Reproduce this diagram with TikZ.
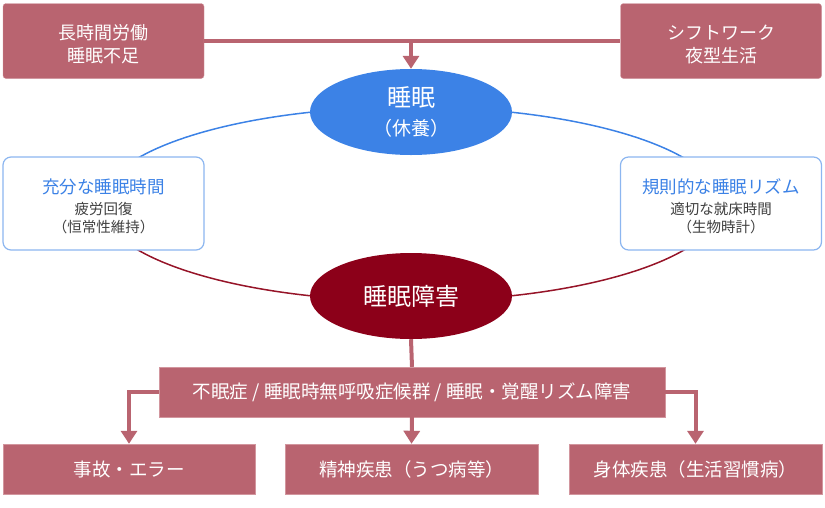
\documentclass[tikz,border=0pt]{standalone}
\usepackage{fontspec}
\setmainfont{Noto Sans CJK JP}
\usetikzlibrary{arrows.meta,shapes.geometric}
\definecolor{boxred}{RGB}{185,100,112}
\definecolor{boxline}{RGB}{210,150,158}
\definecolor{sleepblue}{RGB}{60,130,230}
\definecolor{darkred}{RGB}{140,0,25}
\definecolor{ringred}{RGB}{150,20,40}
\definecolor{lightblue}{RGB}{140,182,240}
\definecolor{subgray}{RGB}{64,64,64}

\begin{document}
\begin{tikzpicture}[x=1pt,y=1pt,yscale=-1,
  cause/.style={draw=boxline,fill=boxred,rounded corners=3pt,minimum width=201pt,minimum height=75pt,
    text=white,align=center,font=\fontsize{18}{23}\selectfont},
  result/.style={draw=boxline,fill=boxred,text=white,minimum height=50pt,font=\fontsize{18.5}{22}\selectfont},
  good/.style={draw=lightblue,line width=1.2pt,fill=white,rounded corners=8pt,minimum width=201pt,
    minimum height=93pt,align=center,text=subgray,font=\fontsize{14.5}{18}\selectfont},
  oval/.style={ellipse,inner sep=0pt,minimum width=202pt,minimum height=86pt,text=white,align=center},
  flow/.style={boxred,line width=4pt},
  tip/.style={-{Triangle[width=16pt,length=13pt]}}]
\useasboundingbox (0,0) rectangle (825,507);

%Shape: ring behind the ovals
\coordinate (ringc) at (411,204);
\draw [sleepblue,line width=1.5pt] (ringc) ++(180:310 and 97) arc [start angle=180,end angle=360,x radius=310,y radius=97];
\draw [ringred,line width=1.5pt] (ringc) ++(180:310 and 97) arc [start angle=180,end angle=0,x radius=310,y radius=97];

% Text Node
\node [cause] (overwork) at (103.5,41) {\rule{0pt}{22pt}長時間労働\\睡眠不足};
% Text Node
\node [cause] (shift) at (721,41) {\rule{0pt}{22pt}シフトワーク\\夜型生活};

%Shape: Ellipse
\node [oval,fill=sleepblue,font=\fontsize{19}{29}\selectfont] (sleep) at (411,112)
  {{\fontsize{24}{28}\selectfont 睡眠}\\（休養）};
%Shape: Ellipse
\node [oval,fill=darkred] (disorder) at (411,296) {\fontsize{24}{28}\selectfont 睡眠障害};

% Text Node
\node [good] (enough) at (103.5,203.5)
  {{\color{sleepblue}\fontsize{17.5}{21}\selectfont\rule{0pt}{21pt}充分な睡眠時間}\\[3pt]
   疲労回復\\（恒常性維持）};
% Text Node
\node [good] (regular) at (721,203.5)
  {{\color{sleepblue}\fontsize{17.5}{21}\selectfont\rule{0pt}{21pt}規則的な睡眠リズム}\\[3pt]
   適切な就床時間\\（生物時計）};

% Text Node
\node [result,minimum width=506pt] (types) at (412,392) {不眠症 / 睡眠時無呼吸症候群 / 睡眠・覚醒リズム障害};
% Text Node
\node [result,minimum width=252pt] (accident) at (129,469) {事故・エラー};
% Text Node
\node [result,minimum width=253pt] (mental) at (411.5,469) {精神疾患（うつ病等）};
% Text Node
\node [result,minimum width=253pt] (physical) at (695.5,469) {身体疾患（生活習慣病）};

%Straight Lines
\coordinate (join) at (sleep.north |- overwork.east);
\draw [flow] (overwork.east) -- (shift.west);
\draw [flow,tip] (join) -- (sleep.north);
\draw [flow] (disorder.south) -- (types.north);
\draw [flow,tip] (types.south) -- (mental.north);
\draw [flow,tip] (types.west) -| (accident.north);
\draw [flow,tip] (types.east) -| (physical.north);

\end{tikzpicture}
\end{document}
